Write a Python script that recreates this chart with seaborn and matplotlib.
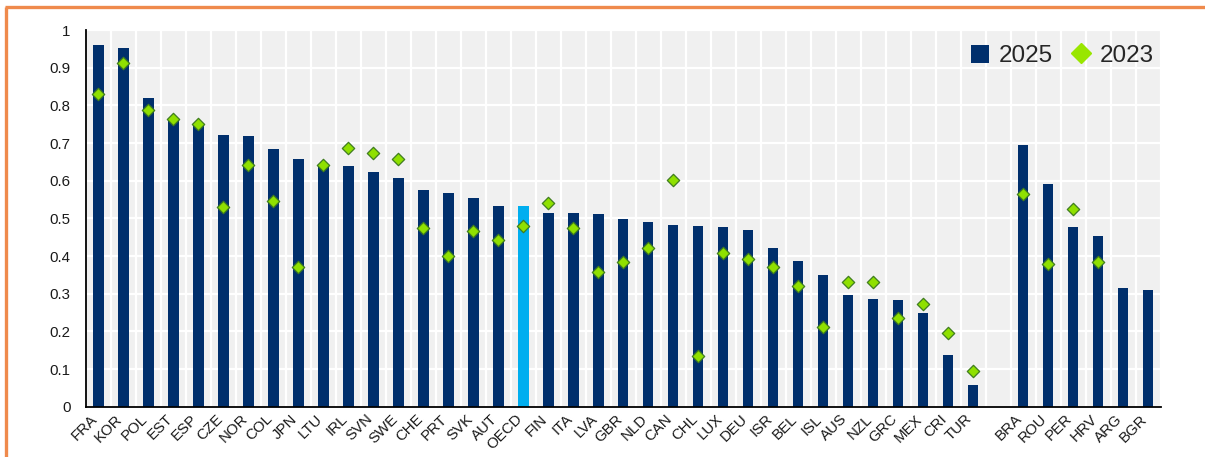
import numpy as np
import pandas as pd
import matplotlib
matplotlib.use("Agg")
import matplotlib.pyplot as plt
import matplotlib.transforms as mtransforms
from matplotlib.lines import Line2D
from matplotlib.patches import Patch
from matplotlib.ticker import FixedLocator
import seaborn as sns

countries = ["FRA", "KOR", "POL", "EST", "ESP", "CZE", "NOR", "COL", "JPN", "LTU",
             "IRL", "SVN", "SWE", "CHE", "PRT", "SVK", "AUT", "OECD", "FIN", "ITA",
             "LVA", "GBR", "NLD", "CAN", "CHL", "LUX", "DEU", "ISR", "BEL", "ISL",
             "AUS", "NZL", "GRC", "MEX", "CRI", "TUR", " ", "BRA", "ROU", "PER",
             "HRV", "ARG", "BGR"]
nan = np.nan
v2025 = [0.960, 0.951, 0.820, 0.764, 0.752, 0.721, 0.719, 0.683, 0.657, 0.642,
         0.640, 0.624, 0.607, 0.575, 0.567, 0.553, 0.534, 0.534, 0.515, 0.513,
         0.511, 0.497, 0.491, 0.483, 0.481, 0.478, 0.468, 0.422, 0.388, 0.350,
         0.296, 0.287, 0.283, 0.248, 0.137, 0.057, nan, 0.696, 0.592, 0.476,
         0.453, 0.316, 0.309]
v2023 = [0.830, 0.913, 0.788, 0.765, 0.751, 0.529, 0.641, 0.545, 0.372, 0.642,
         0.687, 0.673, 0.657, 0.475, 0.399, 0.467, 0.443, 0.479, 0.541, 0.475,
         0.358, 0.383, 0.420, 0.603, 0.134, 0.409, 0.393, 0.372, 0.320, 0.212,
         0.332, 0.331, 0.235, 0.273, 0.196, 0.095, nan, 0.564, 0.379, 0.524,
         0.383, nan, nan]
yticks = [0, 0.1, 0.2, 0.3, 0.4, 0.5, 0.6, 0.7, 0.8, 0.9, 1]
ytick_labels = ["0", "0.1", "0.2", "0.3", "0.4", "0.5", "0.6", "0.7", "0.8", "0.9", "1"]
series_names = ["2025", "2023"]

NAVY = "#002F6C"
LIGHT = "#00AEEF"
LIME = "#8FE000"
LIME_EDGE = "#3F7D1E"
ORANGE = "#EF8A4C"

sns.set_style("white")
plt.rcParams["font.family"] = ["Liberation Sans", "DejaVu Sans"]

df = pd.DataFrame({"country": countries, "v2025": v2025, "v2023": v2023})
df["kind"] = np.where(df["country"] == "OECD", "oecd", "country")
bars = df.dropna(subset=["v2025"])
pts = df.dropna(subset=["v2023"])

fig = plt.figure(figsize=(12.05, 4.57), dpi=100)
ax = fig.add_axes([86 / 1205, 1 - 406.7 / 457, (1160.5 - 86) / 1205, (406.7 - 30) / 457])
ax.set_facecolor("#F0F0F0")

sns.barplot(data=bars, x="country", y="v2025", hue="kind", order=countries,
            palette={"country": NAVY, "oecd": LIGHT}, dodge=False, width=0.42,
            legend=False, saturation=1, ax=ax, zorder=2, linewidth=0)
sns.stripplot(data=pts, x="country", y="v2023", order=countries, jitter=False,
              marker="D", size=6.3, color=LIME, edgecolor=LIME_EDGE, linewidth=0.9,
              ax=ax, zorder=3)

n = len(countries)
ax.set_xlim(-0.5, n - 0.5)
ax.set_ylim(0, 1)
ax.set_yticks(yticks)
ax.set_yticklabels(ytick_labels)
ax.xaxis.set_minor_locator(FixedLocator(np.arange(-0.5, n, 1.0)))
ax.set_axisbelow(True)
ax.grid(False)
ax.yaxis.grid(True, which="major", color="white", linewidth=1.6)
ax.xaxis.grid(True, which="minor", color="white", linewidth=1.6)
ax.set_xlabel("")
ax.set_ylabel("")

ax.tick_params(axis="y", which="major", direction="in", length=4, width=1.2,
               color="black", pad=11, labelsize=10.8, labelcolor="#1a1a1a")
ax.tick_params(axis="x", which="major", length=0, pad=3, labelsize=10.8,
               labelcolor="#1a1a1a")
ax.tick_params(axis="x", which="minor", direction="out", length=4, width=1.2,
               color="black")
offset = mtransforms.ScaledTranslation(-8 / 100, -1 / 100, fig.dpi_scale_trans)
for lab in ax.get_xticklabels():
    lab.set_rotation(45)
    lab.set_ha("right")
    lab.set_va("top")
    lab.set_rotation_mode("anchor")
    lab.set_transform(lab.get_transform() + offset)

for s in ["top", "right"]:
    ax.spines[s].set_visible(False)
for s in ["left", "bottom"]:
    ax.spines[s].set_color("black")
    ax.spines[s].set_linewidth(1.3)

handles = [Patch(facecolor=NAVY, edgecolor="none"),
           Line2D([], [], marker="D", linestyle="none", markersize=10,
                  markerfacecolor="#99E600", markeredgecolor="#99E600")]
ax.legend(handles, series_names, loc="upper right", ncol=2, frameon=False,
          fontsize=17.5, handlelength=0.75, handleheight=0.75, handletextpad=0.4,
          columnspacing=0.8, borderaxespad=0.3, bbox_to_anchor=(1.010, 1.006))

fig.add_artist(Line2D([6 / 1205, 6 / 1205], [0, 1 - 7 / 457], transform=fig.transFigure,
                      color=ORANGE, linewidth=2.4, solid_capstyle="butt"))
fig.add_artist(Line2D([5 / 1205, 1], [1 - 7 / 457, 1 - 7 / 457], transform=fig.transFigure,
                      color=ORANGE, linewidth=2.4, solid_capstyle="butt"))

fig.savefig("out.png", dpi=100, facecolor="white")
